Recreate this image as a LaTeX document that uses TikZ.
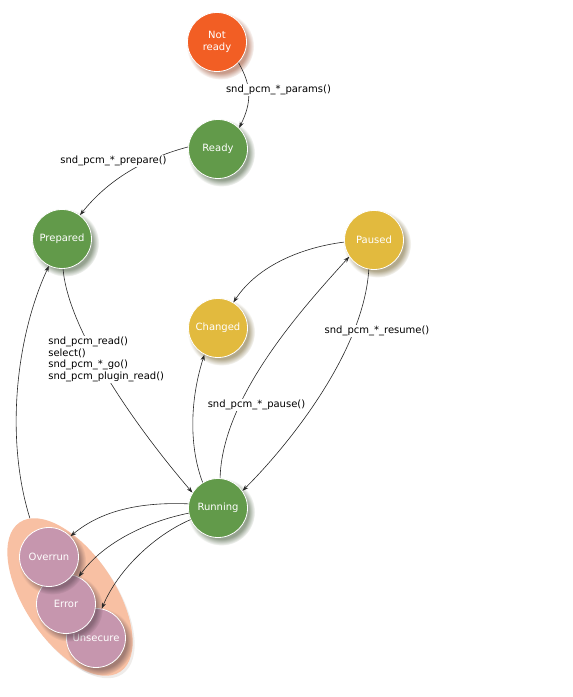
\documentclass[tikz,border=0pt]{standalone}
\usepackage{fontspec}
\setmainfont{DejaVu Sans}
\usetikzlibrary{arrows.meta,shapes.geometric,shadows,fadings}

\definecolor{stRed}{RGB}{242,94,36}
\definecolor{stGreen}{RGB}{98,154,74}
\definecolor{stYellow}{RGB}{226,186,62}
\definecolor{stPink}{RGB}{198,150,174}
\definecolor{stPeach}{RGB}{248,192,163}
\definecolor{edgeGray}{RGB}{40,40,40}

\begin{document}
\begin{tikzpicture}[x=1pt,y=1pt,
  softshadow/.style={general shadow={shadow xshift=3pt, shadow yshift=-3.5pt,
      shadow scale=1.14, fill=#1, draw=none, fill opacity=0.5,
      path fading=circle with fuzzy edge 20 percent}},
  state/.style={circle, minimum size=59pt, inner sep=0pt, draw=white,
    line width=0.8pt, text=white, align=center,
    font=\fontsize{10}{12}\selectfont},
  redstate/.style={state, fill=stRed, softshadow=stRed!60!black},
  greenstate/.style={state, fill=stGreen, softshadow=stGreen!45!black},
  yellowstate/.style={state, fill=stYellow, softshadow=stYellow!45!black},
  pinkstate/.style={state, fill=stPink, softshadow=stPink!40!black},
  group/.style={ellipse, minimum width=180pt, minimum height=90pt,
    inner sep=0pt, fill=stPeach,
    general shadow={shadow xshift=2pt, shadow yshift=-2.5pt,
      fill=stPeach!50!black, draw=none, fill opacity=0.12}},
  tr/.style={draw=edgeGray, line width=0.6pt,
    -{Stealth[length=6pt,width=4.2pt]}},
  lbl/.style={fill=white, inner sep=1pt, text=black, align=left,
    font=\fontsize{10}{11.7}\selectfont}
]
\useasboundingbox (0,0) rectangle (573,697);

% states
\node[redstate]    (nr)      at (217,655) {Not\\ready};
\node[greenstate]  (ready)   at (218,548) {Ready};
\node[greenstate]  (prep)    at (62,458)  {Prepared};
\node[yellowstate] (paused)  at (374,457) {Paused};
\node[yellowstate] (changed) at (218,369) {Changed};
\node[greenstate]  (run)     at (218,189) {Running};

% error group
\node[group, rotate=-56] (grp) at (70,100) {};
\node[pinkstate] (unsecure) at (96,59)  {Unsecure};
\node[pinkstate] (error)    at (66,93)  {Error};
\node[pinkstate] (overrun)  at (49,140) {Overrun};

% transitions
\draw[tr] (nr.-44) .. controls +(14,-24) and +(12,24) .. (ready.45)
  node[lbl] at (278.5,607) {snd\_pcm\_*\_params()};
\draw[tr] (ready.176) .. controls +(-38,-10) and +(31,39) .. (prep.53)
  node[lbl] at (113.5,536) {snd\_pcm\_*\_prepare()};
\draw[tr] (prep.-88) .. controls +(5,-60) and +(-60,70) .. (run.149)
  node[lbl, anchor=west] at (47,337.5)
  {snd\_pcm\_read()\\select()\\snd\_pcm\_*\_go()\\snd\_pcm\_plugin\_read()};
\draw[tr] (paused.184) .. controls +(-40,-5) and +(25,38) .. (changed.59);
\draw[tr] (run.86) .. controls +(2,80) and +(-50,-55) .. (paused.214)
  node[lbl] at (256.5,292) {snd\_pcm\_*\_pause()};
\draw[tr] (paused.260) .. controls +(-5,-80) and +(50,50) .. (run.35)
  node[lbl] at (377,366) {snd\_pcm\_*\_resume()};
\draw[tr] (run.121) .. controls +(-15,40) and +(-13,-40) .. (changed.243);
\draw[tr] (grp.173) .. controls +(-25,80) and +(-33,-71) .. (prep.244);
\draw[tr] (run.172) .. controls +(-50,2) and +(30,25) .. (overrun.44);
\draw[tr] (run.190) .. controls +(-40,-8) and +(25,35) .. (error.65);
\draw[tr] (run.203) .. controls +(-35,-15) and +(17,40) .. (unsecure.79);
\end{tikzpicture}
\end{document}
